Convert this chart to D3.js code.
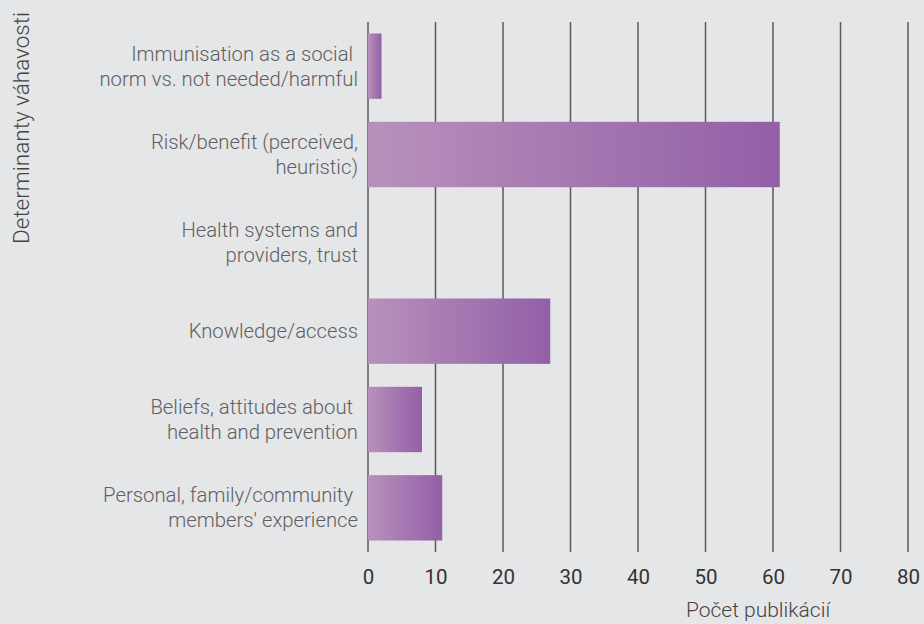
<!DOCTYPE html>
<html><head><meta charset="utf-8">
<script src="https://cdn.jsdelivr.net/npm/d3@7/dist/d3.min.js"></script>
<style>
html,body{margin:0;padding:0;background:#e5e6e8;}
svg{display:block;}
</style></head>
<body>
<svg id="chart" width="924" height="624"></svg>
<script>
const categories = [
  ["Immunisation as a social ", "norm vs. not needed/harmful"],
  ["Risk/benefit (perceived,", "heuristic)"],
  ["Health systems and", "providers, trust"],
  ["Knowledge/access"],
  ["Beliefs, attitudes about ", "health and prevention"],
  ["Personal, family/community ", "members' experience"]
];
const values = [2, 61, 0, 27, 8, 11];
const xTicks = [0, 10, 20, 30, 40, 50, 60, 70, 80];
const xTitle = "Počet publikácií";
const yTitle = "Determinanty váhavosti";

const svg = d3.select("#chart");
const W = 924, H = 624;
const m = {left: 368, right: 16, top: 22, bottom: 72};
const x = d3.scaleLinear().domain([0, 80]).range([m.left, W - m.right]);
const y = d3.scaleBand().domain(d3.range(categories.length)).range([m.top, H - m.bottom]).paddingInner(0.26).paddingOuter(0.13);

const defs = svg.append("defs");
const grad = defs.append("linearGradient").attr("id", "barGrad").attr("x1", "0%").attr("x2", "100%").attr("y1", "0%").attr("y2", "0%");
grad.append("stop").attr("offset", "0%").attr("stop-color", "#b891bb");
grad.append("stop").attr("offset", "100%").attr("stop-color", "#935fa7");

// gridlines
svg.append("g").selectAll("line").data(xTicks).join("line")
  .attr("x1", d => x(d)).attr("x2", d => x(d))
  .attr("y1", m.top).attr("y2", H - m.bottom)
  .attr("stroke", "#5a5a5a").attr("stroke-width", 1.5);

// bars
svg.append("g").selectAll("rect").data(values).join("rect")
  .attr("x", x(0)).attr("y", (d, i) => y(i))
  .attr("width", d => x(d) - x(0)).attr("height", y.bandwidth())
  .attr("fill", "url(#barGrad)");

// x axis labels
const xAxis = d3.axisBottom(x).tickValues(xTicks).tickSize(0).tickPadding(17);
const gx = svg.append("g").attr("transform", `translate(0,${H - m.bottom})`).call(xAxis);
gx.select(".domain").remove();
gx.selectAll("text").attr("font-family", "Roboto, sans-serif").attr("font-size", 20.5).attr("fill", "#333");

// category labels
const lab = svg.append("g").attr("font-family", "Roboto, sans-serif").attr("font-weight", 300)
  .attr("font-size", 20.3).attr("fill", "#606060").attr("text-anchor", "end");
categories.forEach((lines, i) => {
  const cy = y(i) + y.bandwidth() / 2;
  const n = lines.length;
  lines.forEach((t, j) => {
    lab.append("text").attr("x", 358).attr("y", cy + (j - (n - 1) / 2) * 25)
      .attr("dy", "0.35em").style("white-space", "pre").text(t);
  });
});

// titles
svg.append("text").attr("x", 758).attr("y", 617).attr("text-anchor", "middle")
  .attr("font-family", "Roboto, sans-serif").attr("font-weight", 300).attr("font-size", 21).attr("fill", "#444").text(xTitle);
svg.append("text").attr("transform", "translate(21,128) rotate(-90)").attr("text-anchor", "middle")
  .attr("dy", "0.35em")
  .attr("font-family", "Roboto, sans-serif").attr("font-weight", 300).attr("font-size", 22.5).attr("fill", "#444").text(yTitle);
</script>
</body></html>
